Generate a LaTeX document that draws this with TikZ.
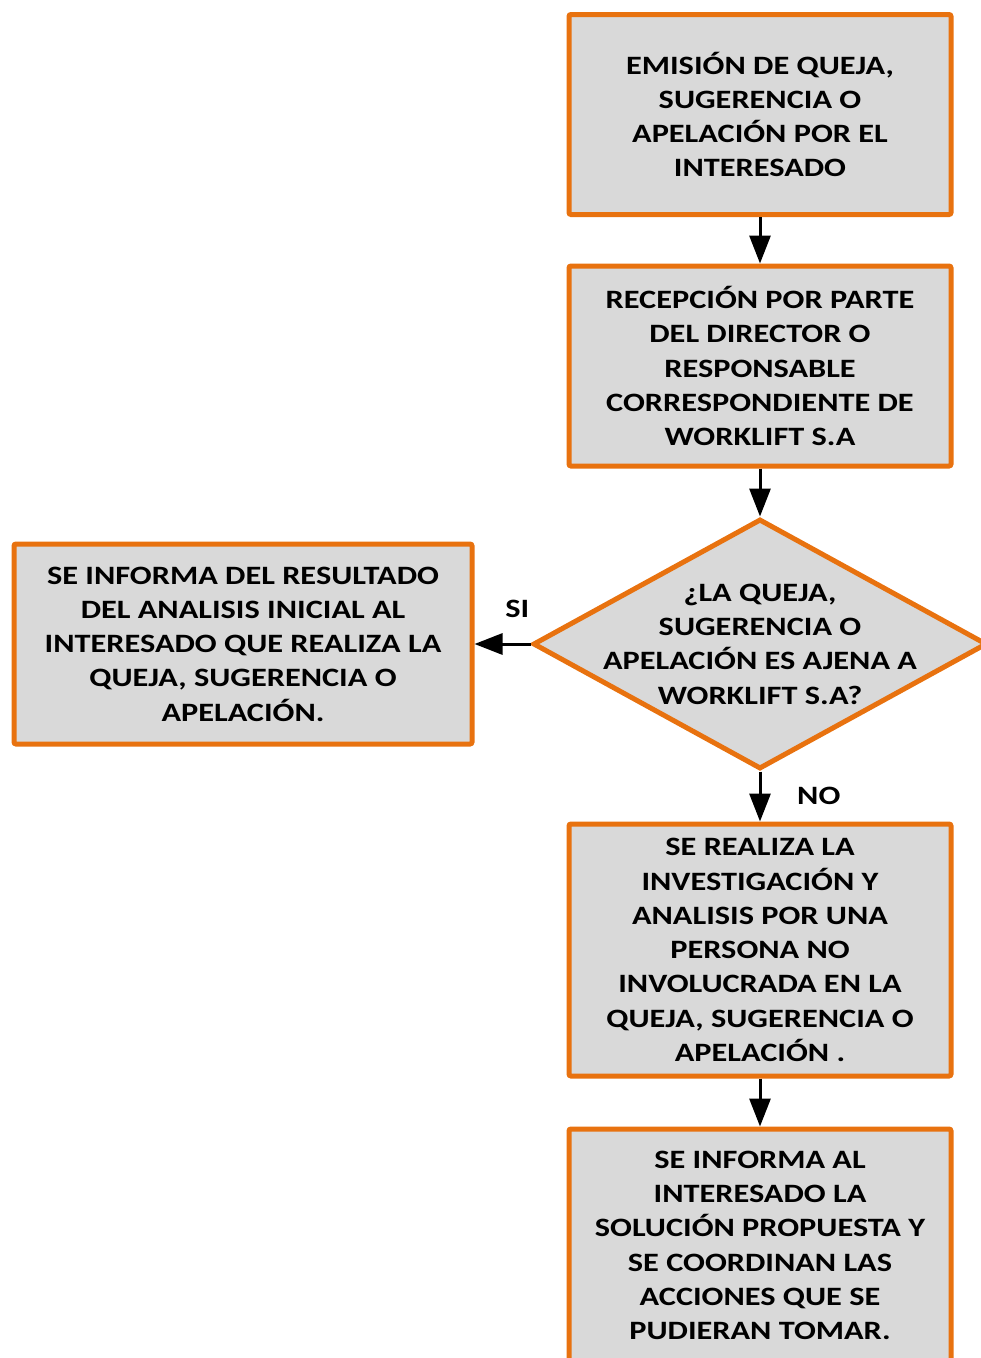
\documentclass[tikz,border=0pt]{standalone}
\usepackage{fontspec}
\setmainfont{Carlito}[FakeStretch=1.22]
\usetikzlibrary{positioning,arrows.meta,shapes}
\definecolor{qorange}{HTML}{E8720F}
\definecolor{qgrey}{HTML}{D9D9D9}
\tikzstyle{obox}=[rectangle, rounded corners=2pt, draw=qorange, fill=qgrey, line width=5pt,
                  minimum width=382pt, minimum height=200pt, inner sep=0pt, align=center,
                  font=\fontsize{26.5pt}{34.3pt}\selectfont\bfseries]
\tikzstyle{dbox}=[diamond, draw=qorange, fill=qgrey, line width=5pt, aspect=1.816,
                  minimum width=454pt, minimum height=250pt, inner sep=0pt]
\tikzstyle{dtext}=[inner sep=0pt, align=center, font=\fontsize{26.5pt}{34.3pt}\selectfont\bfseries]
\tikzstyle{lbl}=[inner sep=0pt, font=\fontsize{26.5pt}{34.3pt}\selectfont\bfseries]
\tikzstyle{pline}=[-{Triangle[length=28pt,width=21pt]}, line width=3pt]
\begin{document}
\begin{tikzpicture}
\useasboundingbox (0pt,0pt) rectangle (981pt,-1358pt);
\clip (0pt,0pt) rectangle (981pt,-1358pt);

\node (EMISION) [obox] at (760pt,-114.5pt) {EMISIÓN DE QUEJA,\\ SUGERENCIA O\\ APELACIÓN POR EL\\ INTERESADO};

\node (RECEPCION) [obox, below=46.5pt of EMISION] {RECEPCIÓN POR PARTE\\ DEL DIRECTOR O\\ RESPONSABLE\\ CORRESPONDIENTE DE\\ WORKLIFT S.A};
 \draw[pline] (EMISION.south) -- (RECEPCION.north);

\node (AJENA) [dbox, below=48pt of RECEPCION] {};\node [dtext] at (AJENA) {¿LA QUEJA,\\ SUGERENCIA O\\ APELACIÓN ES AJENA A\\ WORKLIFT S.A?};
 \draw[pline] (RECEPCION.south) -- (AJENA.north);

\node (INFORME) [obox, minimum width=458pt, left=56pt of AJENA] {SE INFORMA DEL RESULTADO\\ DEL ANALISIS INICIAL AL\\ INTERESADO QUE REALIZA LA\\ QUEJA, SUGERENCIA O\\ APELACIÓN.};
 \draw[pline] (AJENA.west) -- (INFORME.east);
\node (SI) [lbl, above left=26pt and 1pt of AJENA.west] {SI};

\node (INVEST) [obox, minimum height=252pt, below=50pt of AJENA] {SE REALIZA LA\\ INVESTIGACIÓN Y\\ ANALISIS POR UNA\\ PERSONA NO\\ INVOLUCRADA EN LA\\ QUEJA, SUGERENCIA O\\ APELACIÓN .};
 \draw[pline] (AJENA.south) -- (INVEST.north);
\node (NO) [lbl, below right=15pt and 37pt of AJENA.south] {NO};

\node (SOLUCION) [obox, minimum height=233pt, below=48pt of INVEST] {SE INFORMA AL\\ INTERESADO LA\\ SOLUCIÓN PROPUESTA Y\\ SE COORDINAN LAS\\ ACCIONES QUE SE\\ PUDIERAN TOMAR.};
 \draw[pline] (INVEST.south) -- (SOLUCION.north);

\end{tikzpicture}
\end{document}
